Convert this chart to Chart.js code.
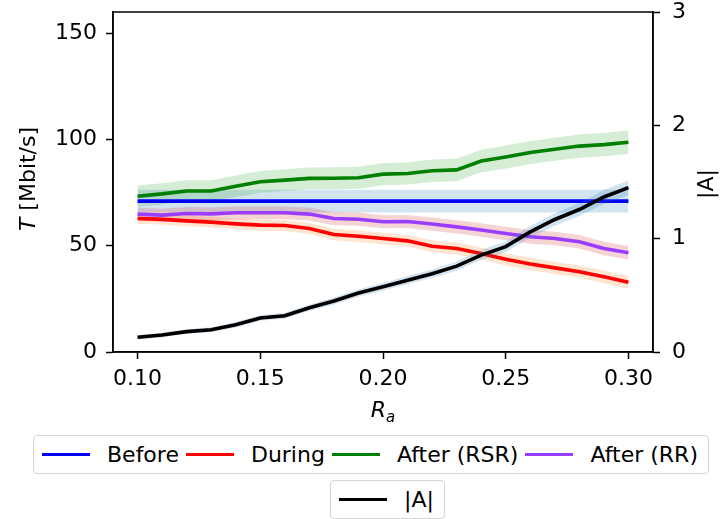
<!DOCTYPE html>
<html>
<head>
<meta charset="utf-8">
<script src="https://cdn.jsdelivr.net/npm/chart.js@4.4.1/dist/chart.umd.min.js"></script>
<style>
  html, body { margin: 0; padding: 0; background: #fff; }
  body { width: 723px; height: 519px; position: relative; overflow: hidden; font-family: 'DejaVu Sans', sans-serif; }
  #wrap { position: absolute; left: 0; top: 0; width: 723px; height: 430px; }
  .legend {
    position: absolute; box-sizing: border-box; height: 39px;
    border: 1px solid #d4d4d4; border-radius: 4px; background: #fff;
    display: flex; align-items: center; padding: 0 10px 0 8px;
    font: 22px 'DejaVu Sans', sans-serif; color: #000; white-space: nowrap;
  }
  .item { display: flex; align-items: center; margin-right: 7px; }
  .item:last-child { margin-right: 0; }
  .handle { width: 48px; height: 3.5px; margin-right: 17px; }
</style>
</head>
<body>
<div id="wrap"><canvas id="chart" width="723" height="430"></canvas></div>
<div class="legend" id="legend1" style="left:33px; top:435px;"></div>
<div class="legend" id="legend2" style="left:330px; top:480px;"></div>
<script>
// x values (R_a)
const rValues = [0.10, 0.11, 0.12, 0.13, 0.14, 0.15, 0.16, 0.17, 0.18, 0.19, 0.20,
                 0.21, 0.22, 0.23, 0.24, 0.25, 0.26, 0.27, 0.28, 0.29, 0.30]

// throughput T [Mbit/s], left axis
const before = [71, 71, 71, 71, 71, 71, 71, 71, 71, 71, 71,
                71, 71, 71, 71, 71, 71, 71, 71, 71, 71]
const beforeErr = [5.3, 5.3, 5.3, 5.3, 5.3, 5.3, 5.3, 5.3, 5.3, 5.3, 5.3,
                   5.3, 5.3, 5.3, 5.3, 5.3, 5.3, 5.3, 5.3, 5.3, 5.3]

const during = [62.8, 62.4, 61.7, 61.1, 60.3, 59.7, 59.5, 58.1, 55.3, 54.5, 53.4,
                52.3, 49.8, 48.7, 46.4, 43.6, 41.4, 39.6, 37.8, 35.4, 32.8]
const duringErr = [2.4, 2.4, 2.5, 2.5, 2.5, 2.6, 2.6, 2.6, 2.7, 2.7, 2.7,
                   2.8, 2.8, 2.8, 2.8, 2.9, 2.9, 2.9, 2.9, 3.0, 3.0]

const afterRsr = [73.3, 74.4, 75.8, 75.8, 78.0, 80.1, 80.9, 81.7, 81.8, 82.0, 83.7,
                  84.0, 85.3, 85.7, 89.9, 91.8, 93.9, 95.4, 96.9, 97.6, 98.7]
const afterRsrErr = [5.0, 5.0, 5.0, 5.0, 5.1, 5.1, 5.1, 5.1, 5.2, 5.2, 5.2,
                     5.2, 5.3, 5.3, 5.3, 5.4, 5.4, 5.4, 5.5, 5.5, 5.5]

const afterRr = [64.9, 64.4, 65.2, 65.0, 65.5, 65.5, 65.5, 64.9, 62.8, 62.5, 61.3,
                 61.4, 60.2, 58.9, 57.4, 55.8, 54.2, 53.4, 51.9, 48.7, 46.7]
const afterRrErr = [3.0, 3.0, 3.0, 3.0, 3.0, 3.0, 3.0, 3.0, 3.1, 3.1, 3.1,
                    3.1, 3.1, 3.1, 3.2, 3.2, 3.2, 3.2, 3.2, 3.2, 3.2]

// |A|, right axis
const absA = [0.13, 0.15, 0.18, 0.197, 0.24, 0.30, 0.32, 0.39, 0.45, 0.52, 0.575,
              0.634, 0.69, 0.758, 0.855, 0.93, 1.06, 1.169, 1.257, 1.368, 1.45]
const absAErr = [0.02, 0.02, 0.02, 0.022, 0.024, 0.025, 0.026, 0.028, 0.03, 0.032, 0.034,
                 0.036, 0.038, 0.04, 0.044, 0.048, 0.052, 0.055, 0.058, 0.062, 0.065]

// tick labels
const xTicks = [0.10, 0.15, 0.20, 0.25, 0.30]
const yTicks = [0, 50, 100, 150]
const y1Ticks = [0, 1, 2, 3]

const seriesNames = ['Before', 'During', 'After (RSR)', 'After (RR)']
const seriesLines = ['#0000ff', '#ff0000', '#008000', '#9b3dff']
const seriesBands = ['rgba(31,119,180,0.2)', 'rgba(255,127,14,0.2)', 'rgba(44,160,44,0.2)', 'rgba(214,39,40,0.2)']
const absName = '|A|'
const absLine = '#000000'
const absBand = 'rgba(31,119,180,0.2)'

const pts = (vals, err, sign) => rValues.map((x, i) => ({ x, y: vals[i] + sign * err[i] }))

// Build the band + line datasets (lower order = drawn later = on top)
const datasets = []
const tSeries = [[before, beforeErr], [during, duringErr], [afterRsr, afterRsrErr], [afterRr, afterRrErr]]
tSeries.forEach(([vals, err], k) => {
  datasets.push({ data: pts(vals, err, -1), borderWidth: 0, pointRadius: 0, fill: false, yAxisID: 'y', order: 100 - k })
  datasets.push({ data: pts(vals, err, 1), borderWidth: 0, pointRadius: 0, fill: '-1', backgroundColor: seriesBands[k], yAxisID: 'y', order: 100 - k })
})
tSeries.forEach(([vals, err], k) => {
  datasets.push({ label: seriesNames[k], data: pts(vals, err, 0), borderColor: seriesLines[k], borderWidth: 3.6, pointRadius: 0, fill: false, yAxisID: 'y', order: 50 - k })
})
datasets.push({ data: pts(absA, absAErr, -1), borderWidth: 0, pointRadius: 0, fill: false, yAxisID: 'y1', order: 20 })
datasets.push({ data: pts(absA, absAErr, 1), borderWidth: 0, pointRadius: 0, fill: '-1', backgroundColor: absBand, yAxisID: 'y1', order: 20 })
datasets.push({ label: absName, data: pts(absA, absAErr, 0), borderColor: absLine, borderWidth: 3.6, pointRadius: 0, fill: false, yAxisID: 'y1', order: 10 })

const tickFont = { family: 'DejaVu Sans', size: 22 }
const axisGrid = { display: true, drawOnChartArea: false, drawTicks: true, tickLength: 7, tickWidth: 1.5, tickColor: '#000' }
const axisBorder = { display: true, color: '#000', width: 1.5 }

// frame + axis titles drawn on the canvas
const framePlugin = {
  id: 'frame',
  afterDraw(chart) {
    const { ctx, chartArea: a } = chart
    ctx.save()
    ctx.strokeStyle = '#000'
    ctx.lineWidth = 1.5
    ctx.strokeRect(a.left, a.top, a.right - a.left, a.bottom - a.top)

    ctx.fillStyle = '#000'
    ctx.textBaseline = 'alphabetic'
    // x title: R_a
    ctx.font = 'italic 22px DejaVu Sans'
    const rW = ctx.measureText('R').width
    ctx.font = 'italic 15px DejaVu Sans'
    const aW = ctx.measureText('a').width
    const cx = (a.left + a.right) / 2
    const x0 = cx - (rW + aW) / 2
    ctx.font = 'italic 22px DejaVu Sans'
    ctx.fillText('R', x0, 417)
    ctx.font = 'italic 15px DejaVu Sans'
    ctx.fillText('a', x0 + rW, 422)

    // left title: T [Mbit/s]
    ctx.save()
    ctx.translate(35, 179)
    ctx.rotate(-Math.PI / 2)
    ctx.font = 'italic 22px DejaVu Sans'
    const tW = ctx.measureText('T').width
    ctx.font = '22px DejaVu Sans'
    const restW = ctx.measureText(' [Mbit/s]').width
    const sx = -(tW + restW) / 2
    ctx.font = 'italic 22px DejaVu Sans'
    ctx.fillText('T', sx, 0)
    ctx.font = '22px DejaVu Sans'
    ctx.fillText(' [Mbit/s]', sx + tW, 0)
    ctx.restore()

    // right title: |A|
    ctx.save()
    ctx.translate(713, 184)
    ctx.rotate(-Math.PI / 2)
    ctx.font = '22px DejaVu Sans'
    ctx.textAlign = 'center'
    ctx.fillText(absName, 0, 0)
    ctx.restore()
    ctx.restore()
  }
}

new Chart(document.getElementById('chart'), {
  type: 'line',
  data: { datasets },
  options: {
    responsive: false,
    animation: false,
    devicePixelRatio: 1,
    layout: { padding: { top: 12, left: 0, right: 0, bottom: 0 } },
    plugins: {
      legend: { display: false },
      tooltip: { enabled: false },
      filler: { drawTime: 'beforeDatasetDraw' }
    },
    elements: { line: { tension: 0 }, point: { radius: 0 } },
    scales: {
      x: {
        type: 'linear',
        min: 0.09,
        max: 0.31,
        afterBuildTicks: s => { s.ticks = xTicks.map(v => ({ value: v })) },
        afterFit: s => { s.height = 78; s.paddingLeft = 0; s.paddingRight = 0 },
        ticks: { font: tickFont, color: '#000', padding: 7, maxRotation: 0, autoSkip: false, callback: v => v.toFixed(2) },
        grid: axisGrid,
        border: axisBorder
      },
      y: {
        position: 'left',
        min: 0,
        max: 160,
        afterBuildTicks: s => { s.ticks = yTicks.map(v => ({ value: v })) },
        afterFit: s => { s.width = 113; s.paddingTop = 0; s.paddingBottom = 0 },
        ticks: { font: tickFont, color: '#000', padding: 9, autoSkip: false },
        grid: axisGrid,
        border: axisBorder
      },
      y1: {
        position: 'right',
        min: 0,
        max: 3,
        afterBuildTicks: s => { s.ticks = y1Ticks.map(v => ({ value: v })) },
        afterFit: s => { s.width = 70; s.paddingTop = 0; s.paddingBottom = 0 },
        ticks: { font: tickFont, color: '#000', padding: 12, autoSkip: false },
        grid: axisGrid,
        border: axisBorder
      }
    }
  },
  plugins: [framePlugin]
})

// HTML legends built from the series names/colours
function addItem(box, name, color) {
  const item = document.createElement('div')
  item.className = 'item'
  const h = document.createElement('div')
  h.className = 'handle'
  h.style.background = color
  const t = document.createElement('span')
  t.textContent = name
  item.appendChild(h)
  item.appendChild(t)
  box.appendChild(item)
}
const legend1 = document.getElementById('legend1')
seriesNames.forEach((n, i) => addItem(legend1, n, seriesLines[i]))
addItem(document.getElementById('legend2'), absName, absLine)
</script>
</body>
</html>
